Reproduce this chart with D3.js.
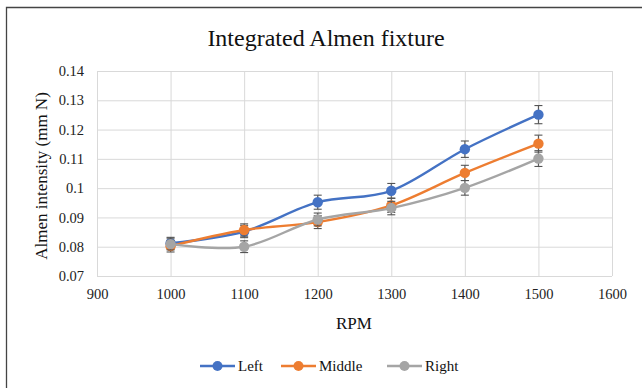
<!DOCTYPE html>
<html>
<head>
<meta charset="utf-8">
<script src="https://cdn.jsdelivr.net/npm/d3@7"></script>
<style>
  body { margin: 0; background: #fff; }
  svg text { font-family: "Liberation Serif", "Times New Roman", serif; }
</style>
</head>
<body>
<div id="chart"></div>
<script>
// Dữ liệu
const rpm = [1000, 1100, 1200, 1300, 1400, 1500];
const seriesNames = ["Left", "Middle", "Right"];
const leftValues = [0.0812, 0.0852, 0.0952, 0.0991, 0.1133, 0.1251];
const middleValues = [0.0802, 0.0857, 0.0884, 0.0941, 0.1052, 0.1152];
const rightValues = [0.0809, 0.0800, 0.0893, 0.0932, 0.1001, 0.1101];
const leftErrors = [0.0020, 0.0021, 0.0024, 0.0025, 0.0028, 0.0031];
const middleErrors = [0.0020, 0.0021, 0.0022, 0.0024, 0.0026, 0.0029];
const rightErrors = [0.0020, 0.0020, 0.0022, 0.0023, 0.0025, 0.0027];
const xTicks = [900, 1000, 1100, 1200, 1300, 1400, 1500, 1600];
const yTicks = [0.07, 0.08, 0.09, 0.1, 0.11, 0.12, 0.13, 0.14];

const colors = { Left: "#4472C4", Middle: "#ED7D31", Right: "#A5A5A5" };

const width = 642, height = 388;
const margin = { top: 71, left: 97 };
const innerWidth = 612 - margin.left;
const innerHeight = 276 - margin.top;

const svg = d3.select("#chart").append("svg")
    .attr("width", width)
    .attr("height", height);

// khung ngoài (chỉ cạnh trái và cạnh trên nằm trong ảnh)
svg.append("path")
    .attr("d", `M6.5,${height} V7.5 H${width}`)
    .attr("fill", "none")
    .attr("stroke", "#444")
    .attr("stroke-width", 1.3);

svg.append("text")
    .attr("x", 326).attr("y", 46)
    .attr("text-anchor", "middle")
    .attr("font-size", 24)
    .attr("fill", "#111")
    .text("Integrated Almen fixture");

const g = svg.append("g").attr("transform", `translate(${margin.left},${margin.top})`);

const x = d3.scaleLinear().domain([900, 1600]).range([0, innerWidth]);
const y = d3.scaleLinear().domain([0.07, 0.14]).range([innerHeight, 0]);

// lưới (bỏ text rỗng của trục lưới)
g.append("g")
    .call(d3.axisLeft(y).tickValues(yTicks).tickSize(-innerWidth).tickFormat(""))
    .call(a => a.select(".domain").remove())
    .call(a => a.selectAll("text").remove())
    .call(a => a.selectAll("line").attr("stroke", "#d9d9d9").attr("stroke-width", 1));
g.append("g")
    .call(d3.axisBottom(x).tickValues(xTicks).tickSize(innerHeight).tickFormat(""))
    .call(a => a.select(".domain").remove())
    .call(a => a.selectAll("text").remove())
    .call(a => a.selectAll("line").attr("stroke", "#d9d9d9").attr("stroke-width", 1));

// nhãn trục
const yAxis = g.append("g")
    .call(d3.axisLeft(y).tickValues(yTicks).tickSize(0).tickPadding(13)
        .tickFormat(d => String(+d.toFixed(2))));
yAxis.select(".domain").remove();
yAxis.attr("font-family", null).attr("font-size", null);
yAxis.selectAll("text").attr("font-size", 14.5).attr("fill", "#222");

const xAxis = g.append("g")
    .attr("transform", `translate(0,${innerHeight})`)
    .call(d3.axisBottom(x).tickValues(xTicks).tickSize(0).tickPadding(13).tickFormat(d3.format("")));
xAxis.select(".domain").remove();
xAxis.attr("font-family", null).attr("font-size", null);
xAxis.selectAll("text").attr("font-size", 14.5).attr("fill", "#222");

svg.append("text")
    .attr("transform", `translate(47,176) rotate(-90)`)
    .attr("text-anchor", "middle")
    .attr("font-size", 17)
    .attr("fill", "#111")
    .text("Almen intensity (mm N)");

svg.append("text")
    .attr("x", 354).attr("y", 329)
    .attr("text-anchor", "middle")
    .attr("font-size", 17)
    .attr("fill", "#111")
    .text("RPM");

const series = [
    { name: "Left", values: leftValues, errors: leftErrors },
    { name: "Middle", values: middleValues, errors: middleErrors },
    { name: "Right", values: rightValues, errors: rightErrors }
].map(s => ({ ...s, points: rpm.map((r, i) => ({ x: r, v: s.values[i], e: s.errors[i] })) }));

const line = d3.line()
    .x(d => x(d.x))
    .y(d => y(d.v))
    .curve(d3.curveCardinal.tension(0));

series.forEach(s => {
    const sg = g.append("g");
    sg.append("path")
        .datum(s.points)
        .attr("d", line)
        .attr("fill", "none")
        .attr("stroke", colors[s.name])
        .attr("stroke-width", 2.4)
        .attr("stroke-linecap", "round");

    // thanh sai số
    const eb = sg.selectAll(".err").data(s.points).enter().append("g")
        .attr("stroke", "#555").attr("stroke-width", 1.1);
    eb.append("line")
        .attr("x1", d => x(d.x)).attr("x2", d => x(d.x))
        .attr("y1", d => y(d.v + d.e)).attr("y2", d => y(d.v - d.e));
    eb.append("line")
        .attr("x1", d => x(d.x) - 4).attr("x2", d => x(d.x) + 4)
        .attr("y1", d => y(d.v + d.e)).attr("y2", d => y(d.v + d.e));
    eb.append("line")
        .attr("x1", d => x(d.x) - 4).attr("x2", d => x(d.x) + 4)
        .attr("y1", d => y(d.v - d.e)).attr("y2", d => y(d.v - d.e));

    sg.selectAll("circle").data(s.points).enter().append("circle")
        .attr("cx", d => x(d.x))
        .attr("cy", d => y(d.v))
        .attr("r", 5.2)
        .attr("fill", colors[s.name]);
});

// chú thích
const legendX = [200, 281, 387];
const legend = svg.append("g");
seriesNames.forEach((name, i) => {
    const lg = legend.append("g").attr("transform", `translate(${legendX[i]},366)`);
    lg.append("line").attr("x1", 0).attr("x2", 35).attr("y1", 0).attr("y2", 0)
        .attr("stroke", colors[name]).attr("stroke-width", 2.4);
    lg.append("circle").attr("cx", 17.5).attr("cy", 0).attr("r", 5).attr("fill", colors[name]);
    lg.append("text").attr("x", 38).attr("y", 5)
        .attr("font-size", 15).attr("fill", "#111").text(name);
});
</script>
</body>
</html>
